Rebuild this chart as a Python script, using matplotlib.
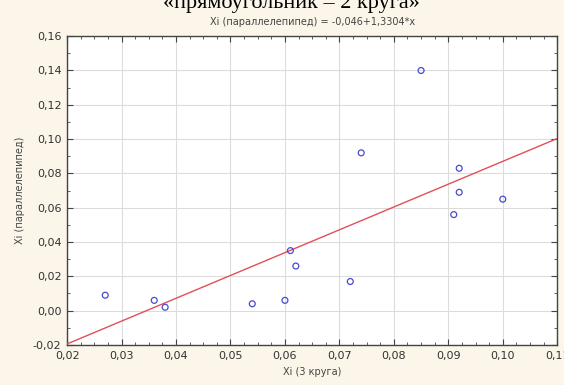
import matplotlib
matplotlib.use("Agg")
import matplotlib.pyplot as plt
import matplotlib.ticker as mtick
import numpy as np

# data (x = 3 круга, y = параллелепипед)
x_vals = [0.027, 0.036, 0.038, 0.054, 0.060, 0.061, 0.062, 0.072,
          0.074, 0.085, 0.091, 0.092, 0.092, 0.100]
y_vals = [0.009, 0.006, 0.002, 0.004, 0.006, 0.035, 0.026, 0.017,
          0.092, 0.140, 0.056, 0.083, 0.069, 0.065]
# fitted line from the title
intercept = -0.046
slope = 1.3304

x_ticks = [0.02, 0.03, 0.04, 0.05, 0.06, 0.07, 0.08, 0.09, 0.10, 0.11]
y_ticks = [-0.02, 0.00, 0.02, 0.04, 0.06, 0.08, 0.10, 0.12, 0.14, 0.16]

bg = '#fbf6e9'
fig = plt.figure(figsize=(5.64, 3.85), dpi=100, facecolor=bg)
ax = fig.add_axes([0.119, 0.104, 0.869, 0.802])
ax.set_facecolor('white')

line_x = np.array([x_ticks[0], x_ticks[-1]])
ax.plot(line_x, intercept + slope * line_x, color='#e0505a', lw=1.0, zorder=3)
ax.scatter(x_vals, y_vals, s=18, facecolors='none', edgecolors='#4a4ad0',
           linewidths=0.9, zorder=4)

ax.set_xlim(x_ticks[0], x_ticks[-1])
ax.set_ylim(y_ticks[0], y_ticks[-1])
ax.set_xticks(x_ticks)
ax.set_yticks(y_ticks)
ax.xaxis.set_major_formatter(mtick.FuncFormatter(lambda v, p: ('%.2f' % v).replace('.', ',')))
ax.yaxis.set_major_formatter(mtick.FuncFormatter(lambda v, p: ('%.2f' % v).replace('.', ',').replace('-0,00', '0,00')))
ax.xaxis.set_minor_locator(mtick.MultipleLocator(0.0025))
ax.yaxis.set_minor_locator(mtick.MultipleLocator(0.01))
ax.tick_params(which='both', direction='in', top=True, right=True, color='#444444',
               labelsize=8, labelcolor='#333333')
ax.tick_params(which='major', length=4, pad=4)
ax.tick_params(which='minor', length=2.5)
ax.grid(True, which='major', color='#dcdcdc', lw=0.8)
ax.set_axisbelow(True)
for s in ax.spines.values():
    s.set_color('#444444')
    s.set_linewidth(1.0)

ax.set_title('Xi (параллелепипед) = -0,046+1,3304*x', fontsize=7, color='#444444', pad=8)
ax.set_xlabel('Xi (3 круга)', fontsize=7, color='#444444', labelpad=5)
ax.set_ylabel('Xi (параллелепипед)', fontsize=7, color='#444444', labelpad=6)

# caption above the chart, cut off at the top edge
fig.text(0.517, 0.979, '«прямоугольник – 2 круга»', family='Liberation Serif',
         fontsize=16, ha='center', va='baseline', color='black')

fig.savefig('out.png', dpi=100, facecolor=bg)
